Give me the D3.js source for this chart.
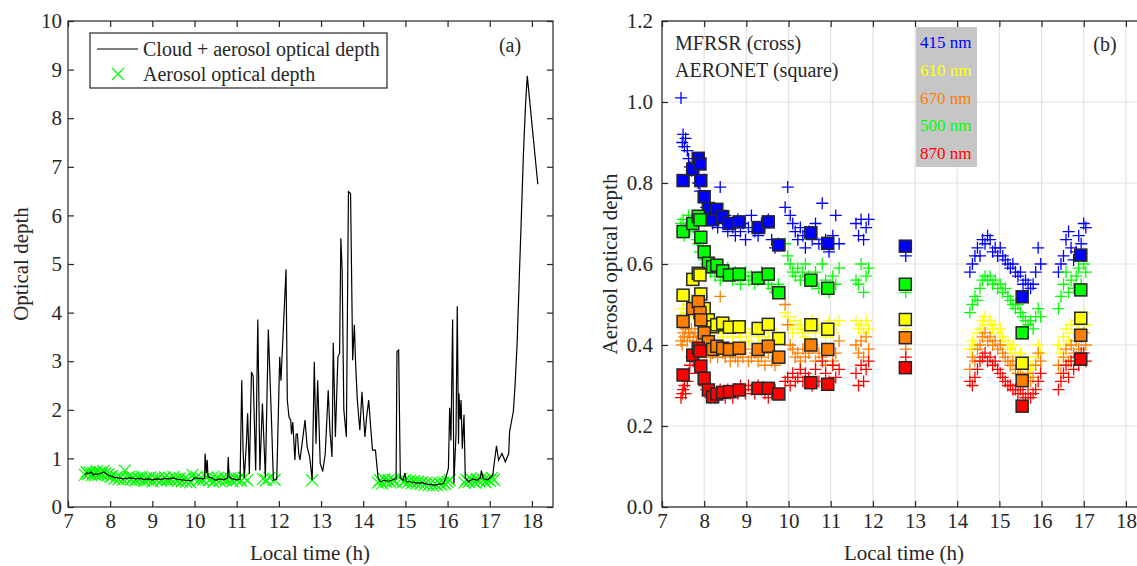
<!DOCTYPE html>
<html>
<head>
<meta charset="utf-8">
<title>Optical depth - cloud and aerosol</title>
<script src="https://d3js.org/d3.v7.min.js"></script>
<style>
  body { margin: 0; background: #fff; }
  svg text { font-family: "Liberation Serif", "Times New Roman", serif; fill: #262626; }
  .axis text { font-family: "Liberation Serif", "Times New Roman", serif; font-size: 21px; fill: #262626; }
  .axis line { stroke: #262626; stroke-width: 1.2; }
</style>
</head>
<body>
<div id="chart"></div>
<script>
//------------------------------ DATA ------------------------------//
// panel (a): cloud + aerosol optical depth (line)
var lineT = [7.40,7.45,7.50,7.55,7.60,7.65,7.70,7.75,7.80,7.85,7.90,7.95,8.00,8.05,8.10,8.20,8.30,8.40,8.50,8.60,
  8.70,8.80,8.90,9.00,9.10,9.20,9.30,9.40,9.50,9.60,9.70,9.80,9.90,9.95,10.00,10.10,10.20,10.24,10.25,10.28,
  10.30,10.32,10.40,10.50,10.60,10.70,10.78,10.80,10.82,10.90,11.00,11.08,11.12,11.15,11.18,11.23,11.26,11.30,11.35,11.39,
  11.45,11.50,11.55,11.61,11.68,11.75,11.83,11.87,11.95,12.02,12.05,12.17,12.20,12.24,12.28,12.30,12.33,12.38,12.41,12.44,
  12.47,12.50,12.56,12.62,12.67,12.73,12.79,12.84,12.88,12.92,12.98,13.04,13.10,13.17,13.21,13.26,13.29,13.34,13.40,13.44,
  13.47,13.50,13.54,13.60,13.65,13.70,13.75,13.79,13.82,13.86,13.92,13.97,14.04,14.08,14.13,14.17,14.22,14.29,14.35,14.40,
  14.50,14.60,14.70,14.78,14.80,14.84,14.88,14.95,14.99,15.02,15.10,15.20,15.30,15.40,15.50,15.60,15.70,15.80,15.90,15.96,
  16.02,16.05,16.08,16.12,16.15,16.20,16.23,16.26,16.27,16.30,16.32,16.35,16.39,16.42,16.50,16.60,16.70,16.78,16.80,16.85,
  16.95,17.07,17.16,17.21,17.29,17.37,17.45,17.47,17.52,17.56,17.60,17.65,17.70,17.75,17.80,17.85,17.89,18.14];
var lineV = [0.66,0.70,0.69,0.72,0.66,0.68,0.67,0.69,0.70,0.72,0.69,0.66,0.64,0.63,0.61,0.60,0.58,0.59,0.60,0.58,
  0.59,0.57,0.58,0.56,0.58,0.57,0.59,0.58,0.60,0.57,0.56,0.55,0.54,0.56,0.60,0.59,0.58,0.60,1.10,0.70,
  0.97,0.62,0.60,0.55,0.58,0.56,0.60,1.03,0.62,0.58,0.56,0.57,2.61,1.20,0.60,1.31,1.93,0.68,2.78,2.70,
  0.75,3.86,0.75,2.13,0.60,3.65,1.65,0.55,0.57,3.09,2.60,4.89,2.20,1.85,1.79,1.50,1.75,0.97,1.50,1.50,
  1.10,0.97,1.37,1.79,1.24,1.03,0.55,2.99,1.30,2.61,0.90,0.73,1.10,2.40,1.58,1.03,3.38,1.44,3.09,3.16,
  5.53,4.88,2.00,1.44,6.49,6.45,3.02,3.75,2.95,2.20,1.58,2.37,1.44,1.85,2.20,1.72,1.17,1.17,0.62,0.52,
  0.55,0.53,0.56,0.58,3.20,3.23,0.60,0.55,0.70,0.52,0.52,0.50,0.49,0.50,0.47,0.46,0.45,0.47,0.48,0.60,
  0.80,2.04,1.37,3.86,0.48,1.50,4.13,1.30,2.34,1.80,2.20,1.20,1.90,0.60,0.52,0.58,0.55,0.60,0.75,0.58,
  0.56,0.65,1.26,0.96,1.10,0.93,1.10,1.55,1.78,1.97,2.50,3.38,4.70,5.98,7.30,8.30,8.87,6.64];

// panel (a): aerosol optical depth (green crosses)
var aodT = [7.40,7.44,7.48,7.52,7.56,7.60,7.64,7.68,7.72,7.76,7.80,7.84,7.88,7.92,7.96,8.00,8.05,8.10,8.15,8.20,
  8.25,8.30,8.35,8.40,8.45,8.50,8.55,8.60,8.65,8.70,8.75,8.80,8.85,8.90,8.95,9.00,9.05,9.10,9.15,9.20,
  9.25,9.30,9.35,9.40,9.45,9.50,9.55,9.60,9.65,9.70,9.75,9.80,9.85,9.90,9.95,10.00,10.05,10.10,10.15,10.20,
  10.30,10.35,10.40,10.45,10.50,10.55,10.60,10.65,10.70,10.75,10.85,10.90,10.95,11.00,11.05,11.10,11.18,11.25,
  11.62,11.70,11.78,11.90,12.79,
  14.35,14.40,14.45,14.50,14.55,14.60,14.65,14.70,14.75,14.90,14.95,15.00,15.05,15.10,15.15,15.20,15.25,15.30,15.35,15.40,
  15.45,15.50,15.55,15.60,15.65,15.70,15.75,15.80,15.85,15.90,15.95,16.00,16.05,
  16.40,16.45,16.50,16.55,16.60,16.65,16.70,16.75,16.80,16.85,16.90,16.95,17.00,17.05,17.10];
var aodV = [0.66,0.72,0.68,0.71,0.65,0.70,0.67,0.73,0.66,0.71,0.68,0.74,0.69,0.65,0.67,0.62,0.64,0.58,0.62,0.57,
  0.61,0.56,0.75,0.58,0.62,0.57,0.61,0.55,0.60,0.57,0.62,0.54,0.59,0.56,0.61,0.53,0.59,0.56,0.60,0.54,
  0.58,0.61,0.55,0.59,0.56,0.62,0.57,0.54,0.59,0.53,0.57,0.52,0.56,0.51,0.66,0.58,0.62,0.55,0.60,0.56,
  0.61,0.55,0.59,0.52,0.57,0.60,0.54,0.58,0.62,0.55,0.59,0.53,0.61,0.56,0.59,0.54,0.60,0.55,
  0.58,0.55,0.60,0.56,0.55,
  0.50,0.55,0.48,0.57,0.52,0.55,0.50,0.56,0.53,0.58,0.52,0.55,0.50,0.54,0.49,0.53,0.48,0.52,0.47,0.51,
  0.46,0.50,0.45,0.49,0.44,0.48,0.45,0.49,0.46,0.50,0.47,0.52,0.55,
  0.50,0.56,0.52,0.58,0.54,0.50,0.57,0.53,0.59,0.55,0.51,0.57,0.54,0.60,0.56];

// panel (b): MFRSR aerosol optical depth (crosses), one time axis for all wavelengths
var mfrsrT = [7.45,7.48,7.50,7.53,7.56,7.60,7.63,7.66,7.70,7.74,7.78,7.82,7.86,7.90,
  8.00,8.05,8.10,8.15,8.20,8.26,8.32,8.38,8.44,8.50,8.56,8.62,8.68,8.74,8.80,8.86,8.92,8.98,9.05,9.12,9.20,9.28,9.36,9.44,9.52,9.60,9.68,9.76,
  9.92,9.98,10.04,10.10,10.16,10.22,10.28,10.34,10.40,10.48,10.56,10.64,10.72,10.80,10.88,10.96,11.05,11.12,11.20,
  11.60,11.66,11.72,11.78,11.84,11.90,
  12.78,
  14.30,14.36,14.42,14.48,14.54,14.60,14.66,14.72,14.78,14.84,14.90,14.96,15.02,15.08,15.14,15.20,15.26,15.32,15.38,15.44,15.50,15.56,15.62,15.68,15.74,15.80,15.86,15.92,15.98,
  16.40,16.46,16.52,16.58,16.64,16.70,16.76,16.82,16.88,16.94,17.00,17.05];
var mfrsr415 = [1.01,0.90,0.92,0.89,0.91,0.88,0.86,0.84,0.83,0.85,0.82,0.84,0.80,0.78,
  0.76,0.74,0.73,0.72,0.70,0.71,0.69,0.79,0.70,0.72,0.68,0.70,0.69,0.67,0.71,0.68,0.70,0.66,0.69,0.72,0.68,0.67,0.70,0.69,0.71,0.66,0.64,0.65,
  0.74,0.79,0.72,0.70,0.68,0.66,0.69,0.67,0.64,0.68,0.66,0.70,0.65,0.75,0.66,0.63,0.67,0.72,0.65,
  0.70,0.67,0.71,0.66,0.69,0.71,
  0.62,
  0.58,0.60,0.62,0.64,0.62,0.66,0.65,0.67,0.66,0.63,0.64,0.62,0.64,0.62,0.61,0.60,0.59,0.60,0.58,0.57,0.58,0.55,0.56,0.55,0.54,0.55,0.58,0.64,0.60,
  0.58,0.60,0.62,0.66,0.68,0.64,0.61,0.63,0.67,0.65,0.70,0.69];
var mfrsr610 = [0.47,0.45,0.49,0.46,0.48,0.50,0.47,0.49,0.51,0.48,0.50,0.47,0.46,0.45,
  0.45,0.44,0.46,0.43,0.44,0.45,0.43,0.44,0.42,0.44,0.43,0.45,0.42,0.44,0.43,0.42,0.44,0.43,0.41,0.43,0.44,0.42,0.43,0.41,0.42,0.44,0.40,0.42,
  0.48,0.47,0.45,0.43,0.46,0.44,0.45,0.43,0.42,0.44,0.46,0.43,0.45,0.44,0.42,0.46,0.43,0.45,0.46,
  0.46,0.44,0.45,0.43,0.46,0.44,
  0.44,
  0.39,0.41,0.40,0.43,0.44,0.46,0.47,0.45,0.46,0.44,0.45,0.43,0.44,0.42,0.41,0.40,0.39,0.40,0.38,0.37,0.38,0.36,0.35,0.36,0.34,0.35,0.37,0.40,0.38,
  0.40,0.38,0.42,0.44,0.41,0.45,0.43,0.46,0.44,0.47,0.48,0.45];
var mfrsr670 = [0.41,0.40,0.43,0.42,0.44,0.41,0.43,0.42,0.44,0.42,0.43,0.41,0.40,0.39,
  0.39,0.38,0.39,0.37,0.38,0.39,0.37,0.52,0.38,0.37,0.39,0.36,0.38,0.37,0.36,0.38,0.37,0.39,0.36,0.37,0.38,0.36,0.37,0.35,0.38,0.36,0.35,0.37,
  0.50,0.45,0.40,0.39,0.37,0.38,0.36,0.39,0.37,0.38,0.40,0.36,0.38,0.37,0.35,0.39,0.36,0.38,0.41,
  0.40,0.38,0.41,0.37,0.42,0.39,
  0.39,
  0.34,0.37,0.36,0.39,0.40,0.42,0.43,0.41,0.42,0.40,0.41,0.39,0.40,0.38,0.37,0.36,0.35,0.36,0.34,0.33,0.34,0.32,0.31,0.33,0.31,0.32,0.35,0.38,0.36,
  0.35,0.33,0.37,0.39,0.36,0.40,0.38,0.41,0.39,0.42,0.43,0.40];
var mfrsr500 = [0.70,0.68,0.71,0.67,0.69,0.70,0.72,0.68,0.71,0.69,0.70,0.66,0.65,0.63,
  0.61,0.60,0.59,0.58,0.59,0.57,0.58,0.56,0.57,0.58,0.59,0.57,0.56,0.58,0.57,0.55,0.57,0.58,0.56,0.57,0.55,0.56,0.58,0.57,0.55,0.54,0.53,0.55,
  0.65,0.62,0.60,0.58,0.57,0.59,0.56,0.58,0.60,0.57,0.55,0.58,0.54,0.60,0.56,0.53,0.57,0.55,0.59,
  0.56,0.55,0.60,0.53,0.57,0.59,
  0.53,
  0.48,0.50,0.52,0.51,0.54,0.56,0.57,0.56,0.57,0.55,0.56,0.54,0.55,0.53,0.54,0.52,0.51,0.50,0.49,0.50,0.48,0.47,0.46,0.45,0.46,0.44,0.47,0.49,0.47,
  0.49,0.52,0.55,0.58,0.53,0.56,0.54,0.57,0.59,0.55,0.60,0.58];
var mfrsr870 = [0.27,0.28,0.29,0.30,0.28,0.31,0.33,0.35,0.37,0.36,0.38,0.37,0.35,0.33,
  0.30,0.29,0.28,0.27,0.28,0.27,0.28,0.29,0.28,0.27,0.29,0.28,0.27,0.29,0.28,0.30,0.29,0.28,0.30,0.29,0.28,0.30,0.29,0.28,0.27,0.28,0.29,0.28,
  0.31,0.32,0.30,0.33,0.31,0.32,0.34,0.31,0.33,0.32,0.30,0.34,0.31,0.36,0.33,0.31,0.35,0.32,0.34,
  0.33,0.30,0.35,0.31,0.34,0.36,
  0.37,
  0.31,0.30,0.32,0.34,0.36,0.37,0.38,0.36,0.37,0.35,0.36,0.34,0.33,0.32,0.31,0.30,0.30,0.29,0.29,0.28,0.29,0.28,0.27,0.28,0.27,0.28,0.29,0.31,0.33,
  0.29,0.31,0.33,0.35,0.32,0.36,0.34,0.37,0.35,0.38,0.38,0.36];

// panel (b): AERONET aerosol optical depth (squares)
var aeronetT = [7.50,7.73,7.86,7.90,7.92,8.00,8.10,8.20,8.30,8.44,8.60,8.83,9.28,9.52,9.77,10.53,10.93,12.77,15.54,16.93];
var aeronet415 = [0.806,0.834,0.861,0.847,0.806,0.766,0.737,0.709,0.735,0.717,0.700,0.704,0.690,0.704,0.647,0.677,0.651,0.644,0.519,0.622];
var aeronet500 = [0.680,0.700,0.718,0.709,0.666,0.630,0.602,0.593,0.597,0.583,0.573,0.575,0.565,0.575,0.529,0.560,0.540,0.550,0.430,0.536];
var aeronet610 = [0.523,0.562,0.577,0.573,0.526,0.490,0.462,0.445,0.450,0.454,0.444,0.445,0.441,0.451,0.416,0.450,0.439,0.463,0.355,0.466];
var aeronet670 = [0.458,0.490,0.507,0.480,0.462,0.430,0.408,0.389,0.397,0.392,0.389,0.392,0.389,0.397,0.370,0.400,0.389,0.418,0.312,0.424];
var aeronet870 = [0.326,0.375,0.392,0.385,0.348,0.318,0.289,0.272,0.279,0.283,0.285,0.289,0.293,0.293,0.279,0.307,0.303,0.344,0.249,0.365];

// ticks and legend
var xTickVals = [7, 8, 9, 10, 11, 12, 13, 14, 15, 16, 17, 18];
var yTickValsA = [0, 1, 2, 3, 4, 5, 6, 7, 8, 9, 10];
var yTickValsB = [0, 0.2, 0.4, 0.6, 0.8, 1.0, 1.2];
var bandNames = ["415 nm", "610 nm", "670 nm", "500 nm", "870 nm"];
var bandColors = ["#0000ff", "#ffff00", "#ff7f00", "#00ff00", "#ff0000"];

//------------------------------ SVG -------------------------------//
var width = 1137, height = 566;
var pw = 485, ph = 486;

var svg = d3.select("#chart").append("svg")
    .attr("width", width)
    .attr("height", height);
svg.append("rect").attr("width", width).attr("height", height).attr("fill", "#fff");

var gA = svg.append("g").attr("transform", "translate(68,21)");
var gB = svg.append("g").attr("transform", "translate(662,21)");

var xA = d3.scaleLinear().domain([7, 18.5]).range([0, pw]);
var yA = d3.scaleLinear().domain([0, 10]).range([ph, 0]);
var xB = d3.scaleLinear().domain([7, 18.5]).range([0, pw]);
var yB = d3.scaleLinear().domain([0, 1.2]).range([ph, 0]);

// MATLAB style box axes, ticks pointing in
function drawAxes(g, x, y, yVals, yFmt, pad) {
    g.append("g").attr("class", "axis")
        .attr("transform", "translate(0," + ph + ")")
        .call(d3.axisBottom(x).tickValues(xTickVals).tickSizeInner(-6).tickSizeOuter(0)
            .tickPadding(6).tickFormat(d3.format("d")))
        .call(function(s) { s.select(".domain").remove(); });
    g.append("g").attr("class", "axis")
        .call(d3.axisTop(x).tickValues(xTickVals).tickSizeInner(-6).tickSizeOuter(0).tickFormat(""))
        .call(function(s) { s.select(".domain").remove(); });
    g.append("g").attr("class", "axis")
        .call(d3.axisLeft(y).tickValues(yVals).tickSizeInner(-6).tickSizeOuter(0)
            .tickPadding(pad).tickFormat(yFmt))
        .call(function(s) { s.select(".domain").remove(); });
    g.append("g").attr("class", "axis")
        .attr("transform", "translate(" + pw + ",0)")
        .call(d3.axisRight(y).tickValues(yVals).tickSizeInner(-6).tickSizeOuter(0).tickFormat(""))
        .call(function(s) { s.select(".domain").remove(); });
    g.append("rect")
        .attr("width", pw).attr("height", ph)
        .attr("fill", "none").attr("stroke", "#262626").attr("stroke-width", 1.2);
}

//--------------------------- PANEL (a) ----------------------------//
var aodPts = aodT.map(function(t, i) { return {t: t, v: aodV[i]}; });
var linePts = lineT.map(function(t, i) { return {t: t, v: lineV[i]}; });

gA.selectAll(".aod")
    .data(aodPts)
    .enter().append("path")
    .attr("class", "aod")
    .attr("transform", function(d) { return "translate(" + xA(d.t) + "," + yA(d.v) + ")"; })
    .attr("d", "M-6,-6L6,6M-6,6L6,-6")
    .attr("stroke", "#00ff00")
    .attr("stroke-width", 1.2)
    .attr("fill", "none");

var line = d3.line()
    .x(function(d) { return xA(d.t); })
    .y(function(d) { return yA(d.v); });

gA.append("path")
    .datum(linePts)
    .attr("d", line)
    .attr("fill", "none")
    .attr("stroke", "#000")
    .attr("stroke-width", 1.2);

drawAxes(gA, xA, yA, yTickValsA, d3.format("d"), 6);

// legend (a)
var legA = gA.append("g").attr("transform", "translate(22,12)");
legA.append("rect")
    .attr("width", 297).attr("height", 55)
    .attr("fill", "#fff").attr("stroke", "#262626").attr("stroke-width", 1.2);
legA.append("line")
    .attr("x1", 7).attr("x2", 48).attr("y1", 16).attr("y2", 16)
    .attr("stroke", "#000").attr("stroke-width", 1.2);
legA.append("text").attr("x", 53).attr("y", 23).style("font-size", "20px")
    .text("Cloud + aerosol optical depth");
legA.append("path")
    .attr("transform", "translate(28,41)")
    .attr("d", "M-6,-6L6,6M-6,6L6,-6")
    .attr("stroke", "#00ff00").attr("stroke-width", 1.2).attr("fill", "none");
legA.append("text").attr("x", 53).attr("y", 48).style("font-size", "20px")
    .text("Aerosol optical depth");

gA.append("text").attr("x", 442).attr("y", 31).style("font-size", "20px")
    .attr("text-anchor", "middle").text("(a)");

//--------------------------- PANEL (b) ----------------------------//
// grid
gB.selectAll(".gx").data(xTickVals).enter().append("line")
    .attr("x1", function(d) { return xB(d); }).attr("x2", function(d) { return xB(d); })
    .attr("y1", 0).attr("y2", ph)
    .attr("stroke", "#e2e2e2").attr("stroke-width", 1.2);
gB.selectAll(".gy").data(yTickValsB).enter().append("line")
    .attr("y1", function(d) { return yB(d); }).attr("y2", function(d) { return yB(d); })
    .attr("x1", 0).attr("x2", pw)
    .attr("stroke", "#e2e2e2").attr("stroke-width", 1.2);

var mfrsr = [mfrsr415, mfrsr610, mfrsr670, mfrsr500, mfrsr870];
var aeronet = [aeronet415, aeronet500, aeronet610, aeronet670, aeronet870];
var aeronetColors = ["#0000ff", "#00ff00", "#ffff00", "#ff7f00", "#ff0000"];

mfrsr.forEach(function(vals, k) {
    gB.append("g").selectAll("path")
        .data(mfrsrT.map(function(t, i) { return {t: t, v: vals[i]}; }))
        .enter().append("path")
        .attr("transform", function(d) { return "translate(" + xB(d.t) + "," + yB(d.v) + ")"; })
        .attr("d", "M-6,0H6M0,-6V6")
        .attr("stroke", bandColors[k])
        .attr("stroke-width", 1.3)
        .attr("fill", "none");
});

aeronet.forEach(function(vals, k) {
    gB.append("g").selectAll("rect")
        .data(aeronetT.map(function(t, i) { return {t: t, v: vals[i]}; }))
        .enter().append("rect")
        .attr("x", function(d) { return xB(d.t) - 6; })
        .attr("y", function(d) { return yB(d.v) - 6; })
        .attr("width", 12).attr("height", 12)
        .attr("fill", aeronetColors[k])
        .attr("stroke", "#262626")
        .attr("stroke-width", 1.5);
});

drawAxes(gB, xB, yB, yTickValsB, d3.format(".1f"), 9);

gB.append("text").attr("x", 13).attr("y", 29).style("font-size", "20px").text("MFRSR (cross)");
gB.append("text").attr("x", 13).attr("y", 56).style("font-size", "20px").text("AERONET (square)");

var legB = gB.append("g").attr("transform", "translate(254,6)");
legB.append("rect").attr("width", 61).attr("height", 140).attr("fill", "#c6c6c6");
legB.selectAll("text").data(bandNames).enter().append("text")
    .attr("x", 4)
    .attr("y", function(d, i) { return 21 + i * 27.8; })
    .style("font-size", "17px")
    .style("fill", function(d, i) { return bandColors[i]; })
    .text(function(d) { return d; });

gB.append("text").attr("x", 443).attr("y", 30).style("font-size", "20px")
    .attr("text-anchor", "middle").text("(b)");

//----------------------------- LABELS -----------------------------//
svg.append("text").attr("x", 310).attr("y", 560).attr("text-anchor", "middle")
    .style("font-size", "21px").text("Local time (h)");
svg.append("text").attr("x", 904).attr("y", 560).attr("text-anchor", "middle")
    .style("font-size", "21px").text("Local time (h)");
svg.append("text").attr("transform", "translate(28,264) rotate(-90)").attr("text-anchor", "middle")
    .style("font-size", "21px").text("Optical depth");
svg.append("text").attr("transform", "translate(617,264) rotate(-90)").attr("text-anchor", "middle")
    .style("font-size", "21px").text("Aerosol optical depth");
</script>
</body>
</html>
